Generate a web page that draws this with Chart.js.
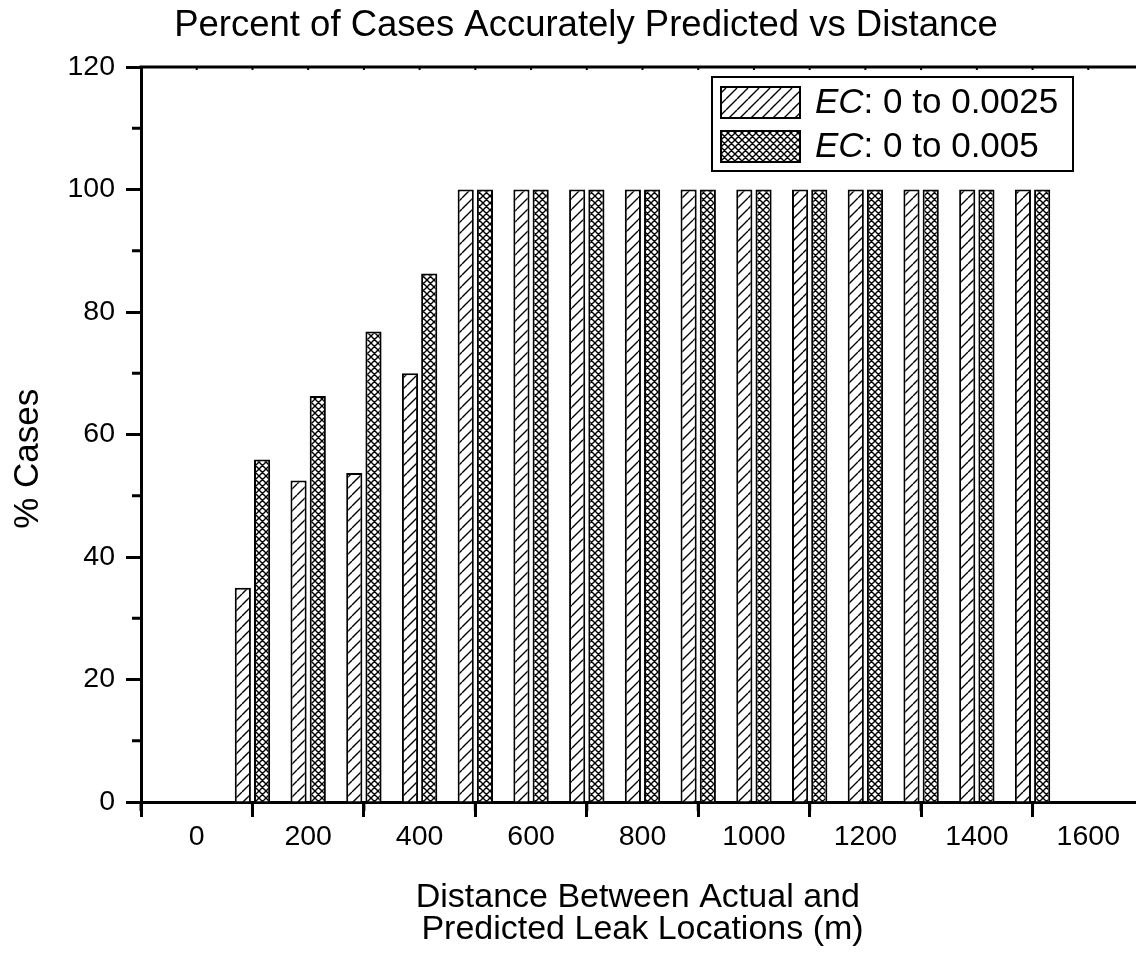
<!DOCTYPE html>
<html lang="en">
<head>
  <meta charset="UTF-8" />
  <title>Percent of Cases Accurately Predicted vs Distance</title>
  <script src="https://cdn.jsdelivr.net/npm/chart.js"></script>
  <style>
    html, body {
      margin: 0;
      padding: 0;
      background: #fff;
      overflow: hidden;
    }
    canvas {
      display: block;
    }
  </style>
</head>
<body>
  <canvas id="leakChart" width="1146" height="957"></canvas>

  <script>
    const FONT = "'Liberation Sans', Arial, Helvetica, sans-serif";

    const chartTitle = "Percent of Cases Accurately Predicted vs Distance";
    // trailing spaces nudge the centred titles to where the original placed them
    const xAxisTitle = ["Distance Between Actual and ", "Predicted Leak Locations (m)"];
    const yAxisTitle = "% Cases     ";

    const distances = [100, 200, 300, 400, 500, 600, 700, 800, 900, 1000, 1100, 1200, 1300, 1400, 1500];
    const casesEc0025 = [35, 52.5, 53.7, 70, 100, 100, 100, 100, 100, 100, 100, 100, 100, 100, 100];
    const casesEc005 = [55.9, 66.3, 76.8, 86.3, 100, 100, 100, 100, 100, 100, 100, 100, 100, 100, 100];
    const seriesNames = ["0 to 0.0025", "0 to 0.005"];

    const xTickValues = [0, 200, 400, 600, 800, 1000, 1200, 1400, 1600];
    const xMinorTicks = [-100, 100, 300, 500, 700, 900, 1100, 1300, 1500, 1700];
    const yTickValues = [0, 20, 40, 60, 80, 100, 120];
    const yMinorTicks = [10, 30, 50, 70, 90, 110];

    const canvas = document.getElementById("leakChart");
    const ctx = canvas.getContext("2d");

    Chart.defaults.font.family = FONT;
    Chart.defaults.color = "#000";

    function hatch(size, cross) {
      const tile = document.createElement("canvas");
      tile.width = size;
      tile.height = size;
      const t = tile.getContext("2d");
      t.fillStyle = "#fff";
      t.fillRect(0, 0, size, size);
      t.strokeStyle = "#000";
      t.lineWidth = 1.4;
      t.beginPath();
      for (const k of [-size, 0, size]) {
        t.moveTo(k, size);
        t.lineTo(k + size, 0);
        if (cross) {
          t.moveTo(k, 0);
          t.lineTo(k + size, size);
        }
      }
      t.stroke();
      return ctx.createPattern(tile, "repeat");
    }

    const diagFill = hatch(11, false);
    const crossFill = hatch(7, true);
    const fills = [diagFill, crossFill];

    // top frame line, minor ticks
    const axisExtras = {
      id: "axisExtras",
      afterDraw(chart) {
        const { ctx, chartArea: a, scales: { x, y } } = chart;
        ctx.save();
        ctx.strokeStyle = "#000";
        ctx.lineWidth = 3;
        ctx.beginPath();
        ctx.moveTo(a.left - 1.5, a.top);
        ctx.lineTo(chart.width, a.top);
        xMinorTicks.forEach(v => {
          const px = x.getPixelForValue(v);
          ctx.moveTo(px, a.bottom);
          ctx.lineTo(px, a.bottom + 9);
        });
        yMinorTicks.forEach(v => {
          const py = y.getPixelForValue(v);
          ctx.moveTo(a.left, py);
          ctx.lineTo(a.left - 9, py);
        });
        ctx.stroke();

        ctx.lineWidth = 2;
        ctx.beginPath();
        xTickValues.concat(xMinorTicks).forEach(v => {
          const px = x.getPixelForValue(v);
          ctx.moveTo(px, a.top);
          ctx.lineTo(px, a.top + 3);
        });
        ctx.stroke();
        ctx.restore();
      }
    };

    // legend box with italic EC
    const ecLegend = {
      id: "ecLegend",
      afterDraw(chart) {
        const { ctx } = chart;
        const box = { x: 712, y: 77, w: 361, h: 94 };
        ctx.save();
        ctx.fillStyle = "#fff";
        ctx.fillRect(box.x, box.y, box.w, box.h);
        ctx.strokeStyle = "#000";
        ctx.lineWidth = 2;
        ctx.strokeRect(box.x, box.y, box.w, box.h);

        seriesNames.forEach((name, i) => {
          const sy = 87 + i * 44;
          ctx.fillStyle = fills[i];
          ctx.fillRect(721, sy, 79, 31);
          ctx.strokeRect(721, sy, 79, 31);

          const ty = sy + 16;
          ctx.fillStyle = "#000";
          ctx.textBaseline = "middle";
          ctx.textAlign = "left";
          ctx.font = "italic 35px " + FONT;
          ctx.fillText("EC", 815, ty);
          const w = ctx.measureText("EC").width;
          ctx.font = "35px " + FONT;
          ctx.fillText(": " + name, 815 + w, ty);
        });
        ctx.restore();
      }
    };

    new Chart(ctx, {
      type: "bar",
      data: {
        datasets: [
          {
            label: "EC: " + seriesNames[0],
            data: distances.map((d, i) => ({ x: d, y: casesEc0025[i] })),
            backgroundColor: diagFill,
            borderColor: "#000",
            borderWidth: 2,
            categoryPercentage: 0.69,
            barPercentage: 0.84
          },
          {
            label: "EC: " + seriesNames[1],
            data: distances.map((d, i) => ({ x: d, y: casesEc005[i] })),
            backgroundColor: crossFill,
            borderColor: "#000",
            borderWidth: 2,
            categoryPercentage: 0.69,
            barPercentage: 0.84
          }
        ]
      },
      options: {
        responsive: false,
        animation: false,
        layout: {
          padding: { left: 28, right: 2, top: 0, bottom: 0 }
        },
        plugins: {
          legend: { display: false },
          tooltip: { enabled: false },
          title: {
            display: true,
            text: chartTitle,
            color: "#000",
            font: { size: 36.5, weight: "normal" },
            padding: { top: 4, bottom: 19.2 }
          }
        },
        scales: {
          x: {
            type: "linear",
            min: -100,
            max: 1700,
            offset: false,
            afterBuildTicks: scale => {
              scale.ticks = xTickValues.map(v => ({ value: v }));
            },
            afterFit: scale => {
              scale.height = 155;
            },
            grid: {
              drawOnChartArea: false,
              tickLength: 15,
              tickWidth: 3,
              tickColor: "#000"
            },
            border: { display: true, width: 3, color: "#000" },
            ticks: {
              padding: 3,
              color: "#000",
              maxRotation: 0,
              autoSkip: false,
              font: { size: 28.5 },
              callback: v => String(v)
            },
            title: {
              display: true,
              text: xAxisTitle,
              color: "#000",
              font: { size: 34, lineHeight: 0.95 },
              padding: { top: 0, bottom: 11 }
            }
          },
          y: {
            min: 0,
            max: 120,
            afterBuildTicks: scale => {
              scale.ticks = yTickValues.map(v => ({ value: v }));
            },
            afterFit: scale => {
              scale.width = 113;
            },
            grid: {
              drawOnChartArea: false,
              tickLength: 15,
              tickWidth: 3,
              tickColor: "#000"
            },
            border: { display: true, width: 3, color: "#000" },
            ticks: {
              padding: 11,
              color: "#000",
              font: { size: 28.5 },
              callback: v => String(v)
            },
            title: {
              display: true,
              text: yAxisTitle,
              color: "#000",
              font: { size: 35, lineHeight: 1.2 },
              padding: { top: -20.5, bottom: 0 }
            }
          }
        }
      },
      plugins: [axisExtras, ecLegend]
    });
  </script>
</body>
</html>
